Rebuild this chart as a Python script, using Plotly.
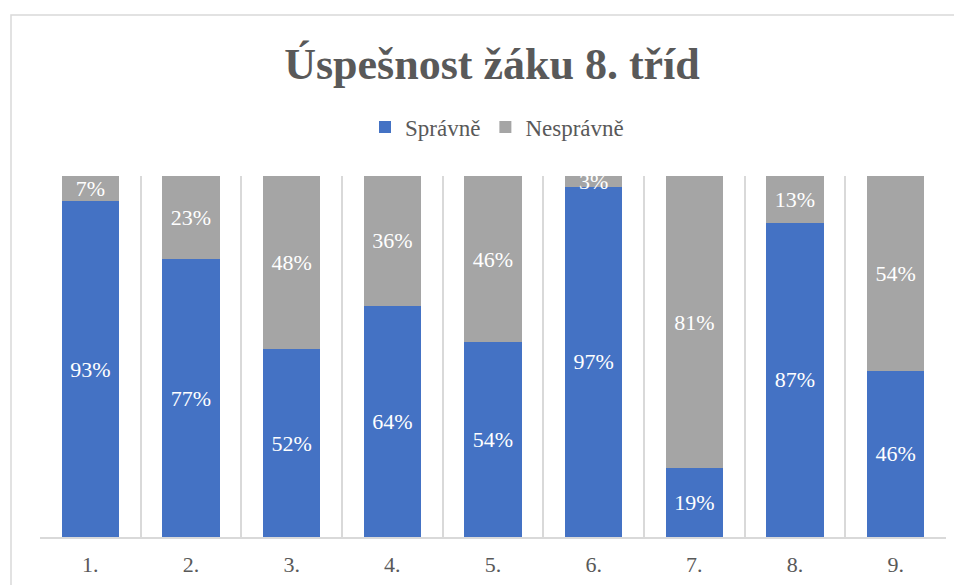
import plotly.graph_objects as go

categories = ["1.", "2.", "3.", "4.", "5.", "6.", "7.", "8.", "9."]
spravne = [93, 77, 52, 64, 54, 97, 19, 87, 46]
nespravne = [7, 23, 48, 36, 46, 3, 81, 13, 54]

FONT = "Liberation Serif"
TXT = "#595959"

# page body adds an 8px offset; compensate so the plot lands at the reference pixels
OFF = 8
W, H = 962, 585
plot_l, plot_r, plot_t, plot_b = 40 - OFF, 946 - OFF, 176 - OFF, 537 - OFF
pw, ph = plot_r - plot_l, plot_b - plot_t

def px_to_paper_x(px):
    return (px - OFF - plot_l) / pw

def px_to_paper_y(py):
    return (plot_b - (py - OFF)) / ph

fig = go.Figure()
for name, vals, color in [("Správně", spravne, "#4472C4"), ("Nesprávně", nespravne, "#A5A5A5")]:
    fig.add_trace(go.Bar(
        x=categories, y=vals, name=name,
        marker=dict(color=color, line=dict(width=0)),
        texttemplate="%{y}%", textposition="inside", insidetextanchor="middle",
        textfont=dict(family=FONT, size=22, color="white"), cliponaxis=True,
    ))

fig.update_layout(
    width=W, height=H,
    barmode="stack", bargap=0.43,
    margin=dict(l=plot_l, r=W - plot_r, t=plot_t, b=H - plot_b),
    paper_bgcolor="white", plot_bgcolor="white",
    font=dict(family=FONT, color=TXT),
    uniformtext=dict(minsize=22, mode="show"),
    title=dict(
        text="<b>Úspešnost žáku 8. tříd</b>",
        font=dict(family=FONT, size=44, color=TXT),
        x=px_to_paper_x(492), xref="paper", xanchor="center",
        y=1 - (64 - OFF) / H, yref="container", yanchor="middle",
    ),
    legend=dict(
        orientation="h", x=px_to_paper_x(497), xanchor="center", xref="paper",
        y=px_to_paper_y(127), yanchor="middle", yref="paper",
        font=dict(family=FONT, size=23, color=TXT),
        itemsizing="constant", traceorder="normal",
    ),
    xaxis=dict(
        type="category", tickson="boundaries",
        showgrid=True, gridcolor="#D9D9D9", gridwidth=1.5,
        showline=True, linecolor="#D9D9D9", linewidth=1.5,
        ticks="", ticklabelstandoff=7,
        tickfont=dict(family=FONT, size=22, color=TXT),
        range=[-0.5, 8.5],
    ),
    yaxis=dict(range=[0, 100], visible=False, showgrid=False, zeroline=False),
    shapes=[dict(
        type="rect", xref="paper", yref="paper",
        x0=px_to_paper_x(11), x1=px_to_paper_x(1000),
        y0=px_to_paper_y(640), y1=px_to_paper_y(15),
        line=dict(color="#D9D9D9", width=1.5), fillcolor="rgba(0,0,0,0)",
        layer="below",
    )],
)

fig.write_html("out.html")
